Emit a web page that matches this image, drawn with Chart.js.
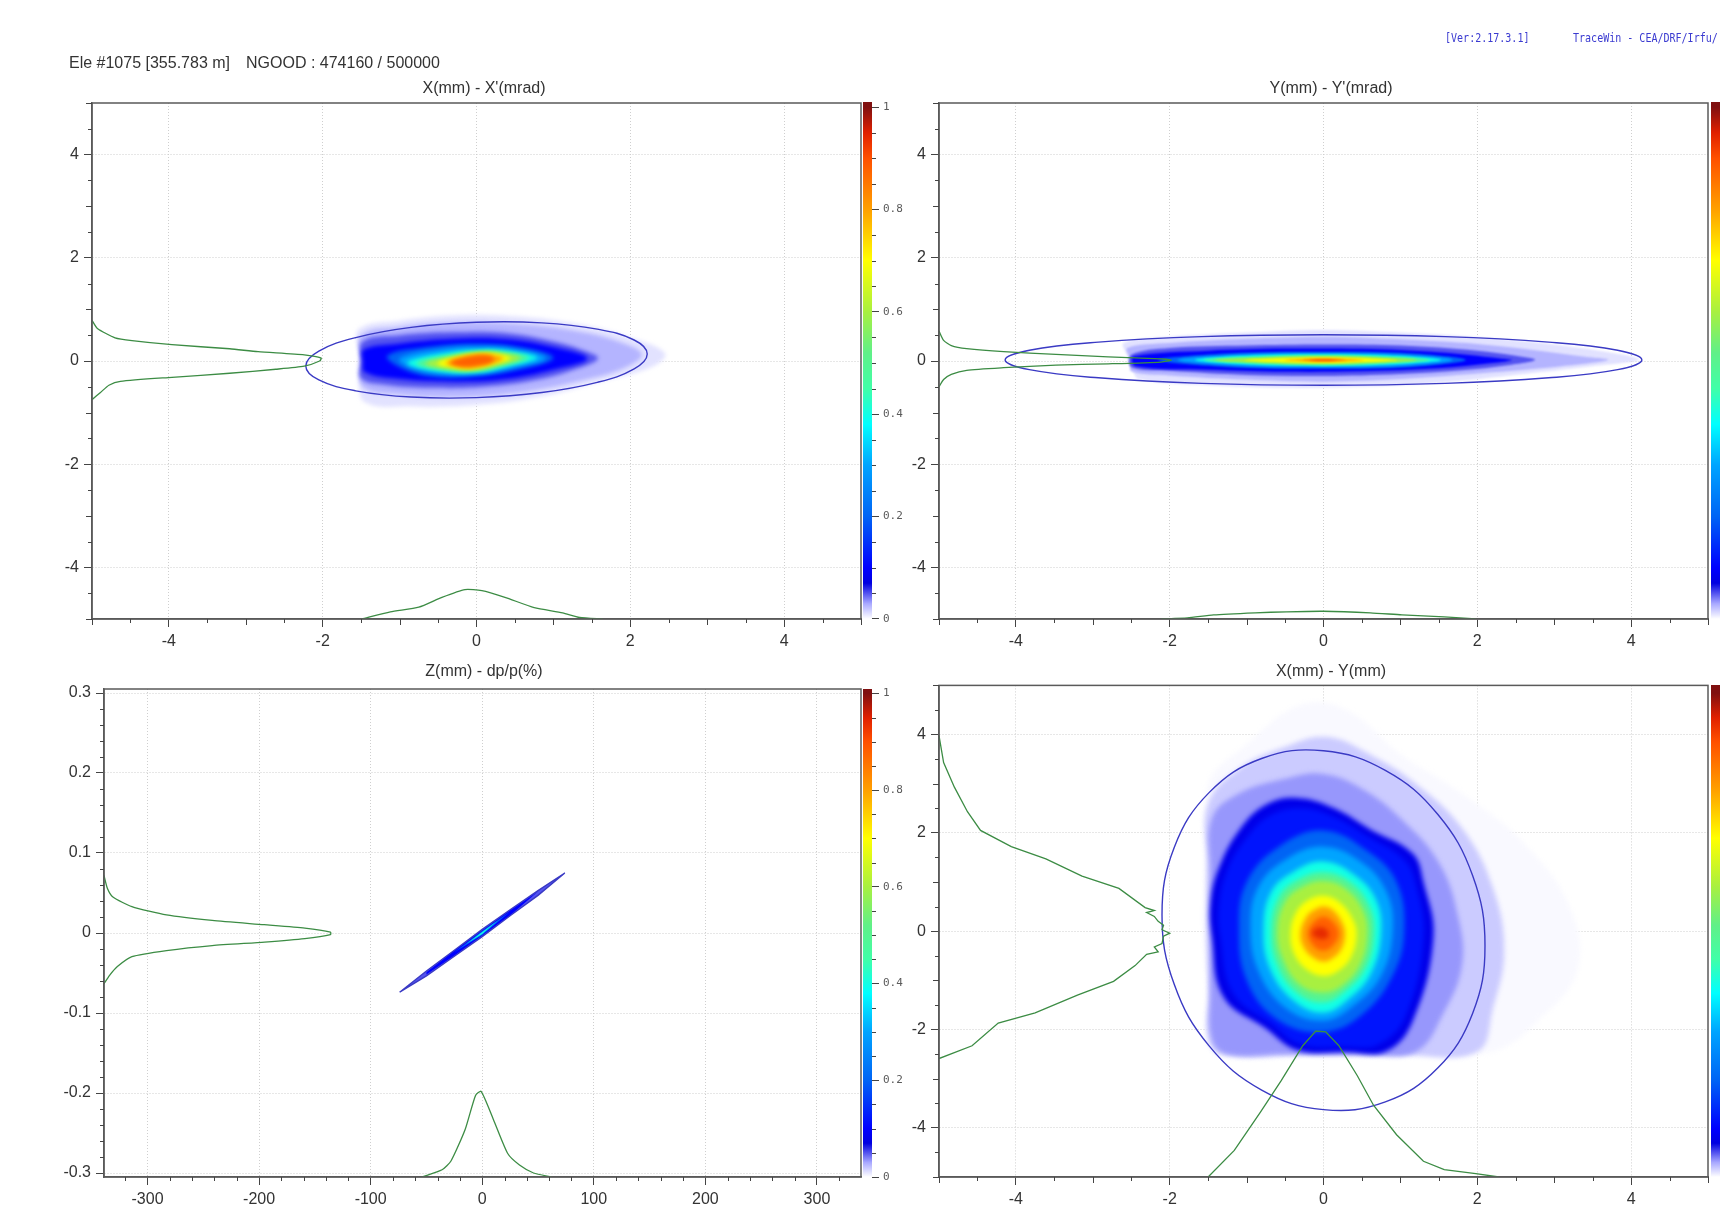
<!DOCTYPE html>
<html lang="en">
<head>
    <meta charset="UTF-8">
    <title>TraceWin phase spaces</title>
    <script src="https://cdn.jsdelivr.net/npm/chart.js"></script>
    <style>
        html, body {
            margin: 0;
            width: 1720px;
            height: 1206px;
            overflow: hidden;
            background: #fff;
            font-family: 'Liberation Sans', sans-serif;
        }
        canvas { position: absolute; filter: blur(0.4px); }
        .head { position: absolute; font-size: 16px; color: #333; white-space: pre; filter: blur(0.3px); }
        .ver {
            position: absolute;
            font: 12px 'DejaVu Sans Mono', monospace;
            color: #3a3ad0;
            white-space: pre;
            transform: scaleX(0.835);
            transform-origin: left top;
            filter: blur(0.3px);
        }
    </style>
</head>
<body>
    <div class="head" style="left:69px;top:54px">Ele #1075 [355.783 m]</div>
    <div class="head" style="left:246px;top:54px">NGOOD : 474160 / 500000</div>
    <div class="ver" style="left:1445px;top:31px">[Ver:2.17.3.1]</div>
    <div class="ver" style="left:1573px;top:31px">TraceWin - CEA/DRF/Irfu/</div>

    <script>
        // tick values
        const mmTicks = [-4, -2, 0, 2, 4];
        const mmMedium = [-5, -3, -1, 1, 3, 5];
        const mmMinor = [-4.5, -3.5, -2.5, -1.5, -0.5, 0.5, 1.5, 2.5, 3.5, 4.5];
        const zTicks = [-300, -200, -100, 0, 100, 200, 300];
        const zMinor = [-320, -280, -260, -240, -220, -180, -160, -140, -120, -80, -60, -40, -20, 20, 40, 60, 80, 120, 140, 160, 180, 220, 240, 260, 280, 320];
        const dpTicks = [-0.3, -0.2, -0.1, 0, 0.1, 0.2, 0.3];
        const dpMinor = [-0.28, -0.26, -0.24, -0.22, -0.18, -0.16, -0.14, -0.12, -0.08, -0.06, -0.04, -0.02, 0.02, 0.04, 0.06, 0.08, 0.12, 0.14, 0.16, 0.18, 0.22, 0.24, 0.26, 0.28];
        const cbTicks = [0, 0.2, 0.4, 0.6, 0.8, 1];
        const cbMinor = [0.05, 0.1, 0.15, 0.25, 0.3, 0.35, 0.45, 0.5, 0.55, 0.65, 0.7, 0.75, 0.85, 0.9, 0.95];

        // colour bar stops, value then colour
        const jetValues = [0, 0.03, 0.07, 0.1, 0.2, 0.3, 0.38, 0.45, 0.52, 0.6, 0.7, 0.8, 0.9, 0.95, 1];
        const jetColors = ['#ffffff', '#a8a8ff', '#0000e0', '#0000ff', '#0064f5', '#00a4ff', '#00ffff', '#40ffa8', '#60f088', '#a8f040', '#ffff00', '#ffa000', '#ff5000', '#e02000', '#801010'];

        // X - X'
        const xxpEllipse = [[2.22,0.135],[2.05,0.407],[1.57,0.618],[0.85,0.739],[0,0.75],[-0.85,0.651],[-1.57,0.454],[-2.05,0.193],[-2.22,-0.095],[-2.05,-0.367],[-1.57,-0.578],[-0.85,-0.699],[0,-0.71],[0.85,-0.611],[1.57,-0.414],[2.05,-0.153]];
        const xxpProfileY = [[-5,0.79],[-4.93,0.63],[-4.7,0.45],[-4.48,0.395],[-3.96,0.316],[-3.21,0.237],[-2.84,0.18],[-2.24,0.12],[-2.02,0.055],[-2.04,0],[-2.24,-0.1],[-2.61,-0.16],[-3.21,-0.237],[-3.96,-0.316],[-4.63,-0.395],[-4.78,-0.47],[-4.89,-0.61],[-5,-0.75]];
        const xxpProfileX = [[-1.49,-5],[-1.12,-4.86],[-0.75,-4.77],[-0.45,-4.58],[-0.15,-4.43],[0.07,-4.45],[0.37,-4.58],[0.75,-4.78],[1.12,-4.88],[1.34,-4.97],[1.64,-5]];
        const xxpLevels = [0.01, 0.026, 0.05, 0.1, 0.2, 0.3, 0.4, 0.5, 0.6, 0.7, 0.8, 0.88];
        const xxpContours = [
            [[-1.53,0.62],[-1,0.78],[-0.3,0.88],[0.5,0.86],[1.3,0.72],[2,0.45],[2.45,0.15],[2.3,-0.1],[1.6,-0.4],[0.8,-0.7],[0,-0.85],[-0.8,-0.88],[-1.45,-0.8],[-1.53,-0.3],[-1.53,0.2]],
            [[-1.5,0.5],[-1,0.66],[-0.3,0.75],[0.5,0.72],[1.3,0.58],[1.9,0.35],[2.15,0.12],[1.9,-0.15],[1.3,-0.4],[0.5,-0.62],[-0.3,-0.7],[-1,-0.65],[-1.48,-0.5],[-1.5,0]],
            [[-1.48,0.38],[-1,0.5],[-0.3,0.56],[0.4,0.54],[1,0.38],[1.4,0.2],[1.58,0.05],[1.3,-0.15],[0.8,-0.36],[0.1,-0.5],[-0.6,-0.52],[-1.2,-0.46],[-1.5,-0.34],[-1.5,0]],
            [[-1.47,0.22],[-1.05,0.33],[-0.3,0.43],[0.4,0.42],[1,0.27],[1.44,0.05],[1,-0.17],[0.4,-0.35],[-0.25,-0.4],[-1,-0.35],[-1.45,-0.22],[-1.48,0]],
            [[-1.16,0.1],[-0.7,0.26],[0,0.34],[0.6,0.26],[1,0.06],[0.6,-0.15],[0,-0.3],[-0.6,-0.3],[-1,-0.12]],
            [[-1,0.05],[-0.5,0.22],[0.1,0.27],[0.6,0.2],[0.9,0.05],[0.5,-0.12],[0,-0.25],[-0.55,-0.24],[-0.9,-0.1]],
            [[-0.9,-0.04],[-0.5,0.13],[0.1,0.22],[0.55,0.16],[0.79,0.06],[0.45,-0.09],[0,-0.22],[-0.5,-0.2]],
            [[-0.78,-0.05],[-0.4,0.1],[0.1,0.19],[0.5,0.14],[0.68,0.06],[0.4,-0.07],[0,-0.2],[-0.45,-0.17]],
            [[-0.66,-0.05],[-0.3,0.09],[0.1,0.17],[0.42,0.13],[0.57,0.06],[0.35,-0.06],[0,-0.17],[-0.38,-0.15]],
            [[-0.51,-0.05],[-0.25,0.08],[0.1,0.15],[0.35,0.11],[0.44,0.05],[0.25,-0.05],[-0.05,-0.15],[-0.3,-0.13]],
            [[-0.4,-0.04],[-0.15,0.09],[0.1,0.13],[0.3,0.09],[0.35,0.04],[0.2,-0.05],[-0.05,-0.13],[-0.25,-0.11]],
            [[-0.34,-0.03],[-0.1,0.08],[0.1,0.11],[0.22,0.06],[0.2,-0.02],[0,-0.09],[-0.22,-0.1]]
        ];

        // Y - Y'
        const yypEllipse = [[4.14,0.02],[3.825,0.208],[2.927,0.366],[1.584,0.473],[0,0.51],[-1.584,0.473],[-2.927,0.366],[-3.825,0.208],[-4.14,0.02],[-3.825,-0.168],[-2.927,-0.326],[-1.584,-0.433],[0,-0.47],[1.584,-0.433],[2.927,-0.326],[3.825,-0.168]];
        const yypProfileY = [[-5,0.58],[-4.94,0.4],[-4.84,0.3],[-4.64,0.24],[-4.16,0.18],[-3.48,0.13],[-2.8,0.08],[-2.11,0.04],[-1.98,0.015],[-2.11,-0.02],[-2.8,-0.055],[-3.48,-0.08],[-4.16,-0.13],[-4.64,-0.18],[-4.84,-0.26],[-4.94,-0.36],[-5,-0.5]];
        const yypProfileX = [[-2.11,-5],[-1.77,-4.98],[-1.43,-4.92],[-0.89,-4.88],[-0.48,-4.86],[0,-4.85],[0.61,-4.88],[1.02,-4.92],[1.57,-4.96],[1.98,-5]];
        const yypLevels = [0.01, 0.026, 0.05, 0.1, 0.2, 0.3, 0.4, 0.5, 0.6, 0.7, 0.8, 0.9];
        const yypContours = [
            [[-2.6,0.35],[-2,0.47],[-1,0.55],[0,0.6],[1,0.55],[2,0.46],[3,0.32],[3.9,0.12],[4.1,0.02],[3.5,-0.1],[2.6,-0.25],[1.5,-0.42],[0.5,-0.5],[-0.5,-0.52],[-1.5,-0.47],[-2.4,-0.35],[-2.5,-0.1],[-2.55,0.1]],
            [[-2.55,0.25],[-2,0.35],[-1,0.43],[0,0.47],[1,0.42],[2,0.33],[2.8,0.2],[3.4,0.08],[3.7,0.02],[3.1,-0.1],[2.2,-0.22],[1,-0.35],[0,-0.4],[-1,-0.36],[-2,-0.28],[-2.5,-0.2],[-2.5,0]],
            [[-2.5,0.12],[-2,0.25],[-1,0.3],[0,0.32],[1,0.3],[2,0.2],[2.5,0.1],[2.75,0.02],[2.4,-0.08],[1.8,-0.18],[1,-0.25],[0,-0.29],[-1,-0.27],[-2,-0.19],[-2.5,-0.12]],
            [[-2.47,0.09],[-1.5,0.2],[-0.5,0.24],[0.5,0.235],[1.5,0.17],[2.3,0.05],[2.45,0.02],[2.2,-0.04],[1.5,-0.14],[0.5,-0.2],[-0.5,-0.21],[-1.5,-0.17],[-2.45,-0.1]],
            [[-2.15,0.02],[-1.2,0.15],[0,0.18],[1.1,0.15],[1.85,0.02],[1.1,-0.12],[0,-0.15],[-1.2,-0.12]],
            [[-1.9,0.02],[-1,0.13],[0,0.15],[1,0.125],[1.68,0.02],[1,-0.095],[0,-0.12],[-1,-0.1]],
            [[-1.67,0.02],[-0.9,0.105],[0,0.125],[0.8,0.105],[1.53,0.02],[0.8,-0.07],[0,-0.095],[-0.9,-0.07]],
            [[-1.55,0.02],[-0.8,0.085],[0,0.105],[0.75,0.085],[1.38,0.02],[0.75,-0.05],[0,-0.08],[-0.8,-0.055]],
            [[-1.43,0.02],[-0.7,0.07],[0,0.09],[0.65,0.07],[1.22,0.02],[0.65,-0.035],[0,-0.06],[-0.7,-0.04]],
            [[-1.04,0.015],[-0.5,0.055],[0,0.07],[0.5,0.055],[0.96,0.015],[0.5,-0.02],[0,-0.04],[-0.5,-0.025]],
            [[-0.52,0.015],[-0.25,0.04],[0,0.05],[0.25,0.04],[0.53,0.015],[0.25,-0.005],[0,-0.02],[-0.25,-0.005]],
            [[-0.3,0.017],[-0.15,0.03],[0,0.035],[0.15,0.03],[0.3,0.017],[0.15,0.005],[0,0],[-0.15,0.005]]
        ];

        // Z - dp/p
        const zdpEllipse = [[-74,-0.074],[-50,-0.0475],[-25,-0.0215],[0,0.0045],[25,0.029],[50,0.053],[74,0.075],[50,0.047],[25,0.0215],[0,-0.0045],[-25,-0.029],[-50,-0.0535]];
        const zdpProfileY = [[-339,0.072],[-336,0.056],[-331,0.045],[-314,0.033],[-283,0.0226],[-242,0.0157],[-195.5,0.0104],[-159,0.0061],[-136,0.001],[-136,-0.002],[-159,-0.007],[-195,-0.0113],[-242,-0.0157],[-283,-0.022],[-314,-0.0296],[-327,-0.042],[-334,-0.053],[-339,-0.0635]];
        const zdpProfileX = [[-54,-0.305],[-36,-0.296],[-28,-0.285],[-15.4,-0.246],[-6,-0.203],[-1,-0.198],[10,-0.233],[23,-0.276],[33.4,-0.29],[46,-0.3],[62,-0.305]];
        const zdpLevels = [0.05, 0.1, 0.2, 0.4];
        const zdpContours = [
            [[-74,-0.074],[-50,-0.0475],[-25,-0.0215],[0,0.0045],[25,0.029],[50,0.053],[74,0.075],[50,0.047],[25,0.0215],[0,-0.0045],[-25,-0.029],[-50,-0.0535]],
            [[-50,-0.049],[-25,-0.022],[0,0.0035],[25,0.0285],[50,0.052],[25,0.022],[0,-0.0035],[-25,-0.0285],[-50,-0.052]],
            [[-25,-0.024],[0,0.0025],[25,0.0265],[0,-0.0025]],
            [[-14,-0.0135],[0,0.0012],[14,0.0155],[0,-0.0012]]
        ];

        // X - Y
        const xyEllipse = [[2.1,-0.295],[1.94,1.126],[1.485,2.378],[0.804,3.271],[0,3.67],[-0.804,3.513],[-1.485,2.824],[-1.94,1.708],[-2.1,0.335],[-1.94,-1.086],[-1.485,-2.338],[-0.804,-3.231],[0,-3.63],[0.804,-3.473],[1.485,-2.784],[1.94,-1.668]];
        const xyProfileY = [[-5,3.98],[-4.94,3.43],[-4.8,2.93],[-4.63,2.43],[-4.46,2.05],[-4.06,1.72],[-3.61,1.47],[-3.14,1.12],[-2.66,0.87],[-2.32,0.48],[-2.2,0.42],[-2.3,0.38],[-2.2,0.3],[-2.15,0.2],[-2.08,0.12],[-2.1,0.03],[-2,-0.04],[-2.08,-0.1],[-2.1,-0.25],[-2.2,-0.32],[-2.15,-0.42],[-2.3,-0.47],[-2.45,-0.7],[-2.73,-1.02],[-3.2,-1.3],[-3.75,-1.66],[-4.23,-1.87],[-4.57,-2.33],[-5,-2.59]];
        const xyProfileX = [[-1.5,-5],[-1.16,-4.46],[-0.82,-3.68],[-0.55,-3.04],[-0.27,-2.33],[-0.1,-2.03],[0.03,-2.05],[0.2,-2.33],[0.44,-2.94],[0.65,-3.54],[0.95,-4.14],[1.3,-4.68],[1.57,-4.85],[1.98,-4.93],[2.28,-5]];
        const xyLevels = [0.002, 0.018, 0.034, 0.08, 0.12, 0.2, 0.3, 0.4, 0.5, 0.6, 0.7, 0.8, 0.88, 0.94];
        const xyContours = [
            [[-1.5,3],[-1,3.8],[-0.3,4.6],[0.3,4.5],[1,3.6],[1.8,2.8],[2.6,1.8],[3.2,0.5],[3.3,-0.8],[2.8,-1.8],[2.2,-2.45],[1,-2.52],[-0.2,-2.52],[-1.3,-2.52],[-1.5,-2.2],[-1.5,-1.2],[-1.52,0],[-1.52,1.5]],
            [[-1.5,2.6],[-1.1,3.3],[-0.5,3.75],[0.05,3.95],[0.6,3.6],[1.2,3],[1.8,2.1],[2.2,0.9],[2.35,-0.4],[2.2,-1.6],[2,-2.45],[1,-2.52],[-0.2,-2.52],[-1.3,-2.52],[-1.5,-2.2],[-1.5,-1.2],[-1.53,0],[-1.52,1.4]],
            [[-1.45,2.3],[-1.1,2.8],[-0.5,3.1],[0,3.2],[0.5,2.9],[1,2.3],[1.5,1.4],[1.75,0.3],[1.8,-0.7],[1.55,-1.7],[1.2,-2.45],[0.5,-2.5],[-0.5,-2.5],[-1.25,-2.5],[-1.45,-2.2],[-1.47,-1.2],[-1.47,0],[-1.47,1.2]],
            [[-1.47,0.58],[-1.36,1.29],[-1.09,2.07],[-0.75,2.57],[-0.34,2.71],[0.14,2.5],[0.61,2.07],[1.16,1.58],[1.3,1],[1.43,-0.13],[1.16,-1.83],[0.82,-2.44],[0.3,-2.46],[-0.34,-2.42],[-0.75,-1.98],[-1.3,-1.34],[-1.45,-0.13]],
            [[-1.36,0.5],[-1.25,1.25],[-1,1.9],[-0.7,2.35],[-0.3,2.5],[0.14,2.32],[0.58,1.92],[1.05,1.45],[1.2,0.95],[1.3,-0.13],[1.07,-1.72],[0.72,-2.3],[0.3,-2.35],[-0.3,-2.3],[-0.68,-1.88],[-1.18,-1.25],[-1.34,-0.13]],
            [[-1.1,0.1],[-1,1],[-0.6,1.7],[0,2.05],[0.6,1.6],[0.95,1],[1.05,0],[0.9,-0.9],[0.5,-1.7],[0,-2.05],[-0.6,-1.8],[-1,-1]],
            [[-0.95,0.1],[-0.85,0.9],[-0.5,1.45],[0,1.72],[0.5,1.4],[0.82,0.8],[0.9,0],[0.75,-0.9],[0.4,-1.5],[0,-1.82],[-0.5,-1.55],[-0.85,-0.8]],
            [[-0.78,0.05],[-0.68,0.8],[-0.4,1.2],[0,1.42],[0.4,1.15],[0.68,0.65],[0.75,-0.05],[0.62,-0.85],[0.35,-1.35],[0,-1.66],[-0.4,-1.4],[-0.7,-0.75]],
            [[-0.68,0.03],[-0.58,0.7],[-0.33,1.05],[0,1.2],[0.35,1],[0.6,0.5],[0.66,-0.08],[0.55,-0.75],[0.3,-1.2],[0,-1.45],[-0.35,-1.25],[-0.6,-0.7]],
            [[-0.6,0],[-0.5,0.6],[-0.28,0.9],[0,1.02],[0.3,0.85],[0.52,0.4],[0.57,-0.1],[0.47,-0.7],[0.25,-1.1],[0,-1.25],[-0.3,-1.1],[-0.52,-0.6]],
            [[-0.43,-0.05],[-0.35,0.4],[-0.18,0.65],[0,0.72],[0.2,0.6],[0.38,0.25],[0.43,-0.1],[0.35,-0.55],[0.18,-0.82],[0,-0.91],[-0.2,-0.8],[-0.37,-0.5]],
            [[-0.3,-0.05],[-0.22,0.3],[-0.1,0.45],[0,0.5],[0.13,0.42],[0.25,0.15],[0.28,-0.1],[0.22,-0.4],[0.1,-0.57],[0,-0.62],[-0.12,-0.55],[-0.25,-0.35]],
            [[-0.2,-0.05],[-0.12,0.2],[0,0.3],[0.12,0.2],[0.2,-0.05],[0.12,-0.3],[0,-0.4],[-0.13,-0.3]],
            [[-0.15,-0.04],[-0.05,0.08],[0.05,0.02],[0.06,-0.12],[-0.04,-0.16]]
        ];

        const TICK_COLOR = '#444';
        const FRAME_COLOR = '#5a5a5a';
        const GREEN = '#3c8c44';
        const BLUE = '#3a3ac4';

        function hexToRgb(h) {
            return [1, 3, 5].map(i => parseInt(h.substr(i, 2), 16));
        }

        function jet(v) {
            let i = 1;
            while (i < jetValues.length - 1 && jetValues[i] < v) i++;
            const t = (v - jetValues[i - 1]) / (jetValues[i] - jetValues[i - 1]);
            const a = hexToRgb(jetColors[i - 1]), b = hexToRgb(jetColors[i]);
            return 'rgb(' + a.map((c, k) => Math.round(c + (b[k] - c) * t)).join(',') + ')';
        }

        const toPoints = list => list.map(p => ({x: p[0], y: p[1]}));

        // same closed line as the radar chart uses, so the smoothing has no seam
        const loopPlugin = {
            id: 'loop',
            beforeDatasetUpdate(chart, args) {
                if (chart.data.datasets[args.index].loop && args.meta.dataset) {
                    args.meta.dataset._loop = true;
                    args.meta.dataset._fullLoop = true;
                }
            }
        };

        // blur the filled contours so that the colour levels melt into each other
        const softPlugin = {
            id: 'soft',
            beforeDatasetsDraw(chart, args, opts) {
                chart.ctx.filter = 'blur(' + opts.px + 'px)';
            },
            afterDatasetDraw(chart, args, opts) {
                if (args.index <= opts.sharp) chart.ctx.filter = 'none';
            },
            afterDatasetsDraw(chart) {
                chart.ctx.filter = 'none';
            }
        };

        // closed frame plus the medium and minor ticks of the axes
        const marksPlugin = {
            id: 'marks',
            afterDraw(chart, args, opts) {
                const ctx = chart.ctx, area = chart.chartArea;
                ctx.save();
                if (opts.frame) {
                    ctx.strokeStyle = FRAME_COLOR;
                    ctx.lineWidth = 1.5;
                    ctx.strokeRect(area.left, area.top, area.right - area.left, area.bottom - area.top);
                }
                ctx.strokeStyle = TICK_COLOR;
                ctx.lineWidth = 1;
                const vertical = (vals, len) => (vals || []).forEach(v => {
                    const y = Math.round(chart.scales.y.getPixelForValue(v)) + 0.5;
                    const x = opts.yRight ? area.right : area.left;
                    ctx.beginPath();
                    ctx.moveTo(x, y);
                    ctx.lineTo(opts.yRight ? x + len : x - len, y);
                    ctx.stroke();
                });
                const horizontal = (vals, len) => (vals || []).forEach(v => {
                    const x = Math.round(chart.scales.x.getPixelForValue(v)) + 0.5;
                    ctx.beginPath();
                    ctx.moveTo(x, area.bottom);
                    ctx.lineTo(x, area.bottom + len);
                    ctx.stroke();
                });
                vertical(opts.yMedium, 6);
                vertical(opts.yMinor, 4);
                if (!opts.yRight) {
                    horizontal(opts.xMedium, 6);
                    horizontal(opts.xMinor, 4);
                }
                ctx.restore();
            }
        };

        function makeCanvas(left, top, width, height) {
            const c = document.createElement('canvas');
            c.width = width;
            c.height = height;
            c.style.left = left + 'px';
            c.style.top = top + 'px';
            document.body.appendChild(c);
            return c.getContext('2d');
        }

        function phaseAxis(cfg, ticks) {
            return {
                type: 'linear',
                min: cfg.min,
                max: cfg.max,
                afterBuildTicks: s => { s.ticks = ticks.map(v => ({value: v})); },
                afterFit: s => {
                    if (cfg.width) s.width = cfg.width;
                    if (cfg.height) s.height = cfg.height;
                },
                border: {color: FRAME_COLOR, width: 1.5, dash: [1, 2]},
                grid: {color: '#cfcfcf', lineWidth: 1, drawTicks: true, tickLength: 8, tickColor: TICK_COLOR, tickWidth: 1},
                ticks: {
                    color: '#333',
                    font: {family: "'Liberation Sans'", size: 16},
                    padding: 5,
                    maxRotation: 0,
                    autoSkip: false,
                    callback: v => String(v)
                }
            };
        }

        function phaseChart(p) {
            const ctx = makeCanvas(p.left, p.top, 868, p.height);
            const sharpCount = 3;
            const lines = [
                {data: toPoints(p.profileY), borderColor: GREEN, borderWidth: 1.3, tension: p.profileTension},
                {data: toPoints(p.profileX), borderColor: GREEN, borderWidth: 1.3, tension: p.profileTension},
                {data: toPoints(p.ellipse), loop: true, borderColor: BLUE, borderWidth: 1.4, tension: p.ellipseTension}
            ];
            const fills = p.contours.map((c, i) => ({
                data: toPoints(c),
                loop: true,
                borderWidth: 0,
                backgroundColor: jet(p.levels[i]),
                fill: 'shape',
                tension: p.tension
            })).reverse();
            new Chart(ctx, {
                type: 'line',
                data: {datasets: lines.concat(fills)},
                options: {
                    responsive: false,
                    animation: false,
                    events: [],
                    elements: {point: {radius: 0}},
                    layout: {padding: 0},
                    scales: {
                        x: phaseAxis({min: p.xMin, max: p.xMax, height: p.axisHeight}, p.xTicks),
                        y: phaseAxis({min: p.yMin, max: p.yMax, width: p.axisWidth}, p.yTicks),
                        // empty strip on the right, it holds the colour bar so the title stays centred on the whole panel
                        strip: {
                            type: 'linear',
                            position: 'right',
                            afterFit: s => { s.width = 57; },
                            border: {display: false},
                            grid: {display: false},
                            ticks: {display: false}
                        }
                    },
                    plugins: {
                        legend: {display: false},
                        tooltip: {enabled: false},
                        title: {
                            display: true,
                            text: p.title,
                            color: '#333',
                            font: {family: "'Liberation Sans'", size: 16, weight: 'normal'},
                            padding: {top: 0, bottom: p.titleGap}
                        },
                        soft: {px: p.blur, sharp: sharpCount},
                        marks: {frame: true, xMedium: p.xMedium, xMinor: p.xMinor, yMedium: p.yMedium, yMinor: p.yMinor}
                    }
                },
                plugins: [loopPlugin, softPlugin, marksPlugin]
            });
        }

        function colorBar(left, top, height, vMin, vMax) {
            // 10 px of room above and below for the first and last label
            const ctx = makeCanvas(left, top - 10, 50, height + 20);
            new Chart(ctx, {
                type: 'bar',
                data: {
                    labels: [''],
                    datasets: [{
                        data: [[vMin, vMax]],
                        barPercentage: 1,
                        categoryPercentage: 1,
                        borderWidth: 0,
                        backgroundColor: c => {
                            const s = c.chart.scales.y;
                            if (!c.chart.chartArea || !s) return '#00f';
                            const g = c.chart.ctx.createLinearGradient(0, s.getPixelForValue(0), 0, s.getPixelForValue(1));
                            jetValues.forEach((v, i) => g.addColorStop(v, jetColors[i]));
                            return g;
                        }
                    }]
                },
                options: {
                    responsive: false,
                    animation: false,
                    events: [],
                    layout: {padding: 0},
                    scales: {
                        x: {display: false},
                        y: {
                            position: 'right',
                            min: vMin,
                            max: vMax,
                            afterBuildTicks: s => { s.ticks = cbTicks.map(v => ({value: v})); },
                            afterFit: s => {
                                s.width = 41;
                                s.paddingTop = 10;
                                s.paddingBottom = 10;
                            },
                            border: {display: false},
                            grid: {drawOnChartArea: false, tickLength: 7, tickColor: TICK_COLOR},
                            ticks: {
                                color: '#5a5a5a',
                                font: {family: "'DejaVu Sans Mono'", size: 11},
                                padding: 4,
                                callback: v => String(v)
                            }
                        }
                    },
                    plugins: {
                        legend: {display: false},
                        tooltip: {enabled: false},
                        marks: {frame: false, yRight: true, yMinor: cbMinor}
                    }
                },
                plugins: [marksPlugin]
            });
        }

        const mmAxes = {
            xMin: -5, xMax: 5, yMin: -5, yMax: 5,
            xTicks: mmTicks, yTicks: mmTicks,
            xMedium: mmMedium, yMedium: mmMedium, xMinor: mmMinor, yMinor: mmMinor
        };

        phaseChart(Object.assign({}, mmAxes, {
            left: 50, top: 79, height: 576, axisWidth: 42, axisHeight: 36, titleGap: 4.8, blur: 2, tension: 0.4, ellipseTension: 0.4, profileTension: 0.2,
            title: "X(mm) - X'(mrad)",
            ellipse: xxpEllipse, profileY: xxpProfileY, profileX: xxpProfileX, levels: xxpLevels, contours: xxpContours
        }));
        phaseChart(Object.assign({}, mmAxes, {
            left: 897, top: 79, height: 576, axisWidth: 42, axisHeight: 36, titleGap: 4.8, blur: 1, tension: 0.35, ellipseTension: 0.4, profileTension: 0.2,
            title: "Y(mm) - Y'(mrad)",
            ellipse: yypEllipse, profileY: yypProfileY, profileX: yypProfileX, levels: yypLevels, contours: yypContours
        }));
        phaseChart({
            left: 50, top: 662, height: 544, axisWidth: 54, axisHeight: 29, titleGap: 7.8, blur: 0.6, tension: 0, ellipseTension: 0, profileTension: 0.2,
            xMin: -339, xMax: 339.5, yMin: -0.305, yMax: 0.305,
            xTicks: zTicks, yTicks: dpTicks, xMinor: zMinor, yMinor: dpMinor,
            title: "Z(mm) - dp/p(%)",
            ellipse: zdpEllipse, profileY: zdpProfileY, profileX: zdpProfileX, levels: zdpLevels, contours: zdpContours
        });
        phaseChart(Object.assign({}, mmAxes, {
            left: 897, top: 662, height: 544, axisWidth: 42, axisHeight: 29, titleGap: 4.2, blur: 2.5, tension: 0.4, ellipseTension: 0.4, profileTension: 0,
            title: "X(mm) - Y(mm)",
            ellipse: xyEllipse, profileY: xyProfileY, profileX: xyProfileX, levels: xyLevels, contours: xyContours
        }));

        colorBar(863, 102, 518, -0.002, 1.0098);
        colorBar(1711, 102, 518, -0.002, 1.0098);
        colorBar(863, 689, 489, -0.002, 1.009);
        colorBar(1711, 685, 493, -0.002, 1.017);
    </script>
</body>
</html>
